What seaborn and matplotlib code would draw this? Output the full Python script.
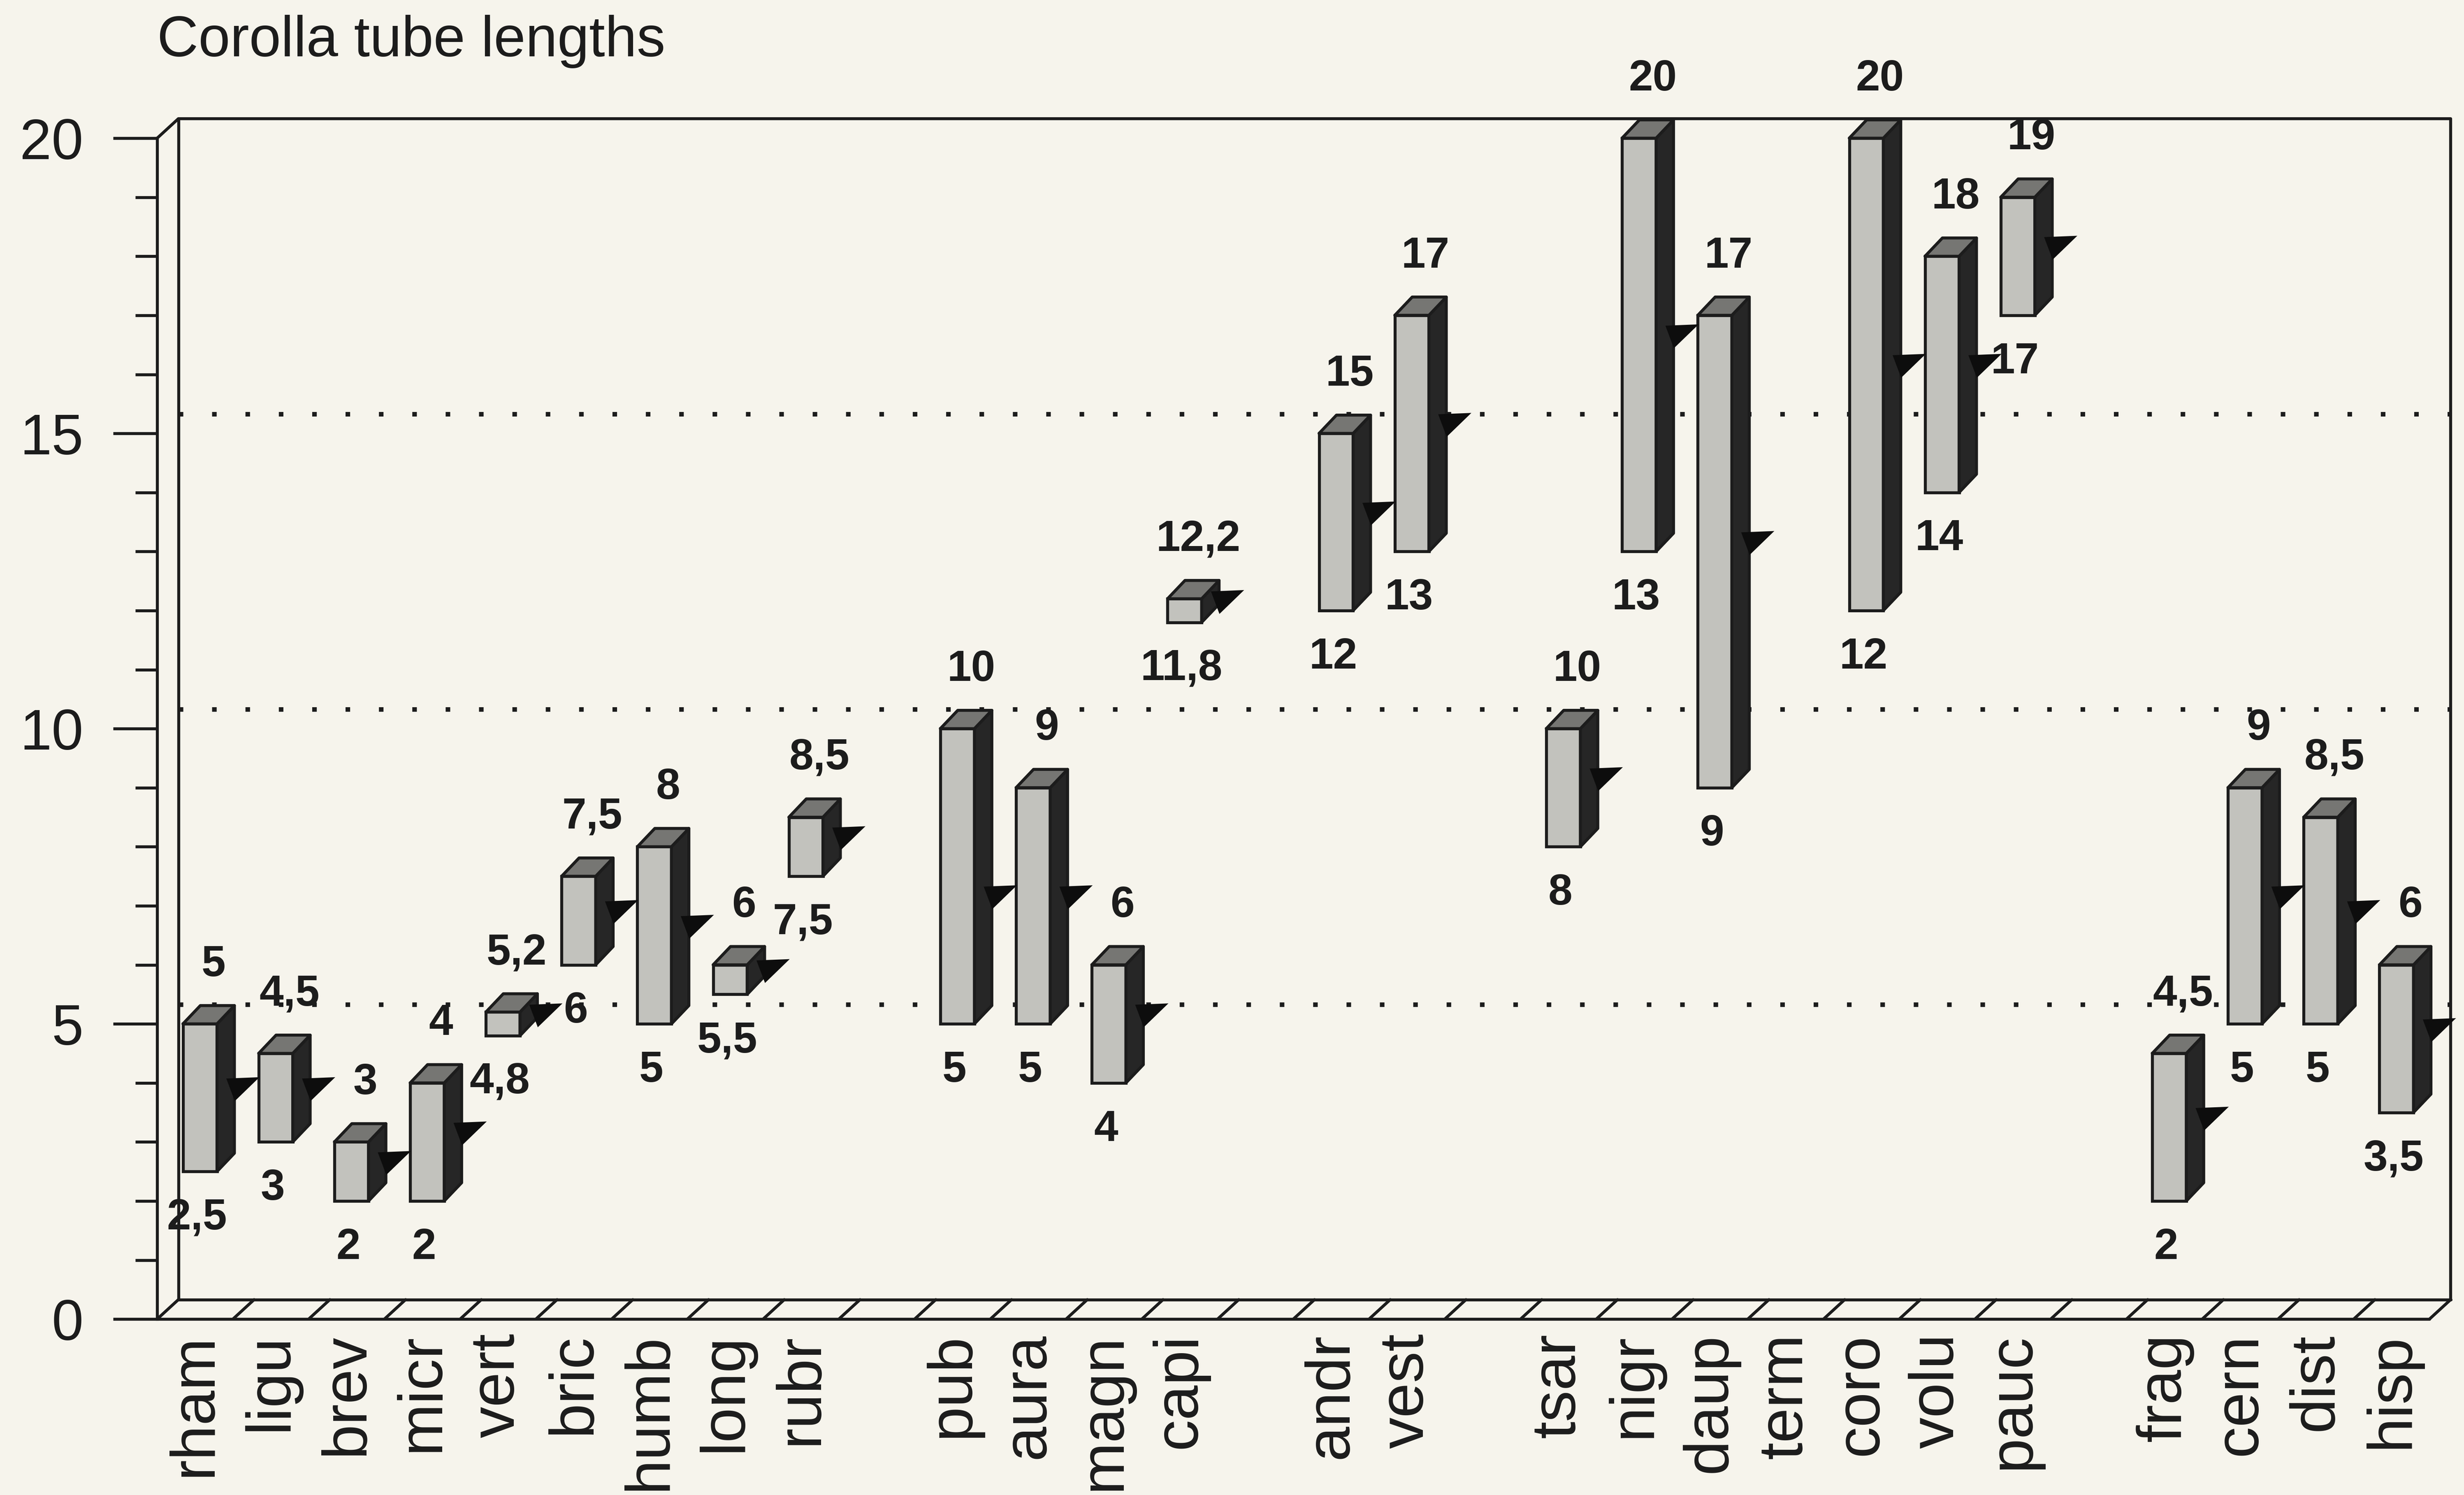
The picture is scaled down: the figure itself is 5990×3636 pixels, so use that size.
import numpy as np
import pandas as pd
import matplotlib
matplotlib.use("Agg")
import matplotlib.pyplot as plt
from matplotlib.patches import Polygon
import seaborn as sns

# Species codes, in the groups they are set out in along the floor
group_1 = ["rham", "ligu", "brev", "micr", "vert", "bric", "humb", "long", "rubr"]
group_2 = ["pub", "aura", "magn", "capi"]
group_3 = ["andr", "vest"]
group_4 = ["tsar", "nigr", "daup", "term", "coro", "volu", "pauc"]
group_5 = ["frag", "cern", "dist", "hisp"]
species_groups = [group_1, group_2, group_3, group_4, group_5]

nan = np.nan
# Shortest and longest corolla tube, same order as the species above
tube_min = [2.5, 3, 2, 2, 4.8, 6, 5, 5.5, 7.5,
            5, 5, 4, 11.8,
            12, 13,
            8, 13, 9, nan, 12, 14, 17,
            2, 5, 5, 3.5]
tube_max = [5, 4.5, 3, 4, 5.2, 7.5, 8, 6, 8.5,
            10, 9, 6, 12.2,
            15, 17,
            10, 20, 17, nan, 20, 18, 19,
            4.5, 9, 8.5, 6]
# Typical length, shown by the black pointer on each column
tube_typical = [3.75, 3.75, 2.5, 3, 5, 6.75, 6.5, 5.75, 8,
                7, 7, 5, 12,
                13.5, 15,
                9, 16.5, 13, nan, 16, 16, 18,
                3.25, 7, 6.75, 4.75]
y_ticks = [0, 5, 10, 15, 20]
y_max = 20

# ---- slot positions: one empty slot between groups ----
species, slots = [], []
pos = 0
for grp in species_groups:
    for name in grp:
        species.append(name)
        slots.append(pos)
        pos += 1
    pos += 1
n_slots = pos - 1

# ---- styling ----
INK = "#1c1c1c"
PAPER = "#f6f4ec"
FRONT = "#c2c2bd"
TOP = "#767673"
SIDE = "#262626"
LW = 1.3
WALL_DX, WALL_DY = 0.28, 0.33     # depth of the box (x in slots, y in value units)
BAR_DX, BAR_DY = 0.23, 0.31       # depth of each column
BAR_W = 0.45
BAR_SHIFT = 0.065

sns.set_theme(style="white")
plt.rcParams["font.family"] = ["Liberation Sans", "DejaVu Sans"]
plt.rcParams["text.color"] = INK
plt.rcParams["axes.labelcolor"] = INK
plt.rcParams["xtick.color"] = INK
plt.rcParams["ytick.color"] = INK

fig = plt.figure(figsize=(5990 / 400, 3636 / 400), dpi=400, facecolor=PAPER)
ax = fig.add_axes([0.06378, 0.11765, 0.92219, 0.78992])
ax.set_facecolor("none")

lo = np.array(tube_min, dtype=float)
hi = np.array(tube_max, dtype=float)
mid = np.array(tube_typical, dtype=float)
centers = np.array(slots, dtype=float) + BAR_SHIFT
has_bar = ~np.isnan(lo)

# front faces of the columns as floating bars
df = pd.DataFrame({"slot": centers[has_bar], "span": (hi - lo)[has_bar]})
sns.barplot(data=df, x="slot", y="span", native_scale=True, width=BAR_W,
            color=FRONT, saturation=1, edgecolor=INK, linewidth=LW,
            errorbar=None, bottom=lo[has_bar], ax=ax, zorder=4)
for p in ax.patches:
    p.set_clip_on(False)

ax.set_xlim(-0.5, n_slots - 0.5)
ax.set_ylim(0, y_max)
ax.set_xlabel("")
ax.set_ylabel("")

# ---- box: back wall, floor, slanted corner ----
xl, xr = -0.5, n_slots - 0.5
line_kw = dict(color=INK, lw=LW, clip_on=False, zorder=2, solid_capstyle="round")
ax.plot([xl, xl + WALL_DX, xr + WALL_DX, xr + WALL_DX],
        [y_max, y_max + WALL_DY, y_max + WALL_DY, WALL_DY], **line_kw)
ax.plot([xl + WALL_DX, xl + WALL_DX], [WALL_DY, y_max + WALL_DY], **line_kw)
ax.plot([xl + WALL_DX, xr + WALL_DX], [WALL_DY, WALL_DY], **line_kw)
ax.plot([xl, xr], [0, 0], **line_kw)
for b in np.arange(xl, xr + 0.01, 1.0):
    ax.plot([b, b + WALL_DX], [0, WALL_DY], **line_kw)

# dotted guides on the back wall
for v in y_ticks[1:-1]:
    ax.plot([xl + WALL_DX, xr + WALL_DX], [v + WALL_DY, v + WALL_DY],
            color=INK, lw=2.0, linestyle=(0, (1, 6.3)), zorder=1, clip_on=False)

# ---- depth faces and pointers ----
for c, a, b, m, ok in zip(centers, lo, hi, mid, has_bar):
    if not ok:
        continue
    x0, x1 = c - BAR_W / 2, c + BAR_W / 2
    top = Polygon([(x0, b), (x1, b), (x1 + BAR_DX, b + BAR_DY), (x0 + BAR_DX, b + BAR_DY)],
                  closed=True, facecolor=TOP, edgecolor=INK, lw=LW, zorder=4,
                  clip_on=False, joinstyle="round")
    side = Polygon([(x1, a), (x1 + BAR_DX, a + BAR_DY), (x1 + BAR_DX, b + BAR_DY), (x1, b)],
                   closed=True, facecolor=SIDE, edgecolor=INK, lw=LW, zorder=4,
                   clip_on=False, joinstyle="round")
    ax.add_patch(side)
    ax.add_patch(top)
    xb = x1 + BAR_DX
    ym = m + BAR_DY
    flag = Polygon([(xb - 0.09, ym), (xb + 0.30, ym + 0.02), (xb + 0.01, ym - 0.34)],
                   closed=True, facecolor="#0d0d0d", edgecolor="#0d0d0d", lw=0.8,
                   zorder=5, clip_on=False, joinstyle="miter")
    ax.add_patch(flag)


def fmt(v):
    return f"{v:g}".replace(".", ",")


# value labels: longest above, shortest below
for c, a, b, ok in zip(centers, lo, hi, has_bar):
    if not ok:
        continue
    ax.text(c + 0.18, b + 0.81, fmt(b), ha="center", va="baseline",
            fontsize=19, fontweight="bold", zorder=6, clip_on=False)
    ax.text(c - 0.04, a - 0.98, fmt(a), ha="center", va="baseline",
            fontsize=19, fontweight="bold", zorder=6, clip_on=False)

# ---- axes, ticks, labels ----
for side_name in ["top", "right", "bottom"]:
    ax.spines[side_name].set_visible(False)
ax.spines["left"].set_visible(True)
ax.spines["left"].set_color(INK)
ax.spines["left"].set_linewidth(LW)
ax.spines["left"].set_zorder(2)

ax.set_yticks(y_ticks)
ax.set_yticklabels([str(t) for t in y_ticks])
ax.set_yticks(np.arange(0, y_max + 1, 1), minor=True)
ax.tick_params(axis="y", which="major", direction="out", length=19.3, width=LW,
               pad=13, labelsize=25, left=True)
ax.tick_params(axis="y", which="minor", direction="out", length=9.6, width=LW, left=True)

ax.set_xticks(slots)
ax.set_xticklabels(species, rotation=90, fontsize=27.5)
ax.tick_params(axis="x", which="both", length=0, pad=6.2, bottom=True)
ax.grid(False)

fig.text(100 / 1568, 1 - 36 / 952, "Corolla tube lengths", fontsize=25,
         ha="left", va="baseline", color=INK)

fig.savefig("out.png", dpi=400, facecolor=PAPER)
